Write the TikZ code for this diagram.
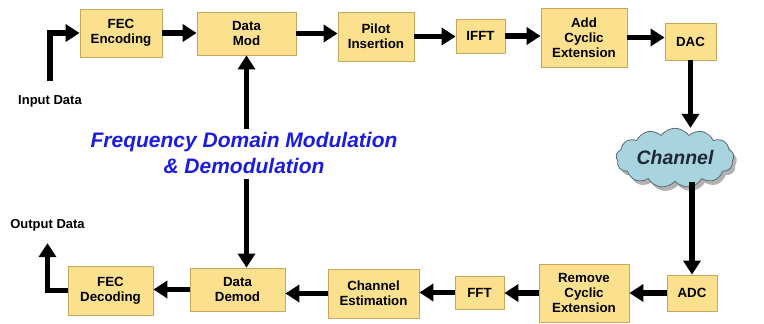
\documentclass[tikz,border=0pt]{standalone}
\usepackage{fontspec}
\setsansfont{Liberation Sans}
\usetikzlibrary{arrows.meta, shapes.symbols, shadows}

\definecolor{boxfill}{RGB}{251,224,142}
\definecolor{boxline}{RGB}{196,168,92}
\definecolor{cloudfill}{RGB}{168,212,224}
\definecolor{cloudline}{RGB}{92,102,112}
\definecolor{fdmblue}{RGB}{28,28,222}
\definecolor{chtext}{RGB}{30,40,55}

\begin{document}
\begin{tikzpicture}[
    x=1pt, y=-1pt,
    every node/.append style = {font=\sffamily\bfseries},
    blk/.style = {draw=boxline, fill=boxfill, line width=0.8pt,
      align=center, inner sep=1pt,
      font=\sffamily\bfseries\fontsize{13.3}{15}\selectfont},
    arr/.style = {line width=5.2pt,
      -{Triangle[length=14pt, width=17pt]}}
  ]
  \useasboundingbox (0,0) rectangle (764,324);
  % transmitter row
  \foreach \name/\x/\y/\w/\h/\txt in {
      fecenc/121/33/82/48/{FEC\\Encoding},
      datamod/246.5/33.5/99/43/{Data\\Mod},
      pilot/376/36.5/76/49/{Pilot\\Insertion},
      ifft/480.5/36/49/34/{IFFT},
      addcp/584/37.5/86/59/{Add\\Cyclic\\Extension},
      dac/690.5/41.5/51/37/{DAC}} {
    \node[blk, minimum width=\w, minimum height=\h] (\name) at (\x,\y) {\txt};
  }
  % receiver row
  \foreach \name/\x/\y/\w/\h/\txt in {
      adc/692/293/50/36/{ADC},
      remcp/584/293/90/58/{Remove\\Cyclic\\Extension},
      fft/479.5/292.5/49/33/{FFT},
      chest/373.5/293.5/91/49/{Channel\\Estimation},
      datademod/237.5/289.5/95/43/{Data\\Demod},
      fecdec/110.5/290.5/85/49/{FEC\\Decoding}} {
    \node[blk, minimum width=\w, minimum height=\h] (\name) at (\x,\y) {\txt};
  }
  \node[cloud, cloud puffs=13, cloud puff arc=110, aspect=2.3,
    draw=cloudline, fill=cloudfill, line width=0.8pt,
    drop shadow={fill=gray!75, opacity=0.8, shadow xshift=3pt, shadow yshift=-4pt},
    minimum width=118pt, minimum height=50pt, inner sep=0pt,
    text=chtext, font=\sffamily\bfseries\itshape\fontsize{19.5}{22}\selectfont]
    (channel) at (675,158) {Channel};
  \node[inner sep=0pt, font=\sffamily\bfseries\fontsize{13}{15}\selectfont]
    (indata) at (50,101) {Input Data};
  \node[inner sep=0pt, font=\sffamily\bfseries\fontsize{13}{15}\selectfont]
    (outdata) at (47.5,225) {Output Data};
  \node[inner sep=0pt, align=center, text=fdmblue,
    font=\sffamily\bfseries\itshape\fontsize{21}{26}\selectfont]
    (fdm) at (244,153) {Frequency Domain Modulation\\\& Demodulation};
  % connectors
  \foreach \a/\b in {fecenc/datamod, datamod/pilot, pilot/ifft,
      ifft/addcp, addcp/dac} {
    \draw[arr] (\a.east) -- (\a.east -| \b.west);
  }
  \foreach \a/\b in {adc/remcp, remcp/fft, fft/chest,
      chest/datademod, datademod/fecdec} {
    \draw[arr] (\a.west) -- (\a.west -| \b.east);
  }
  \draw[arr] (dac.south) -- (dac.south |- channel.north);
  \draw[arr] (channel.south -| adc.north) -- (adc.north);
  \draw[arr] ([yshift=14pt]indata.north) |- (fecenc.west);
  \draw[arr] (fecdec.west) -| ([yshift=-12pt]outdata.south);
  \draw[arr] ([yshift=3pt]fdm.north -| datamod.south) -- (datamod.south);
  \draw[arr] ([yshift=-5pt]fdm.south -| datamod.south)
    -- (datademod.north -| datamod.south);
\end{tikzpicture}
\end{document}
